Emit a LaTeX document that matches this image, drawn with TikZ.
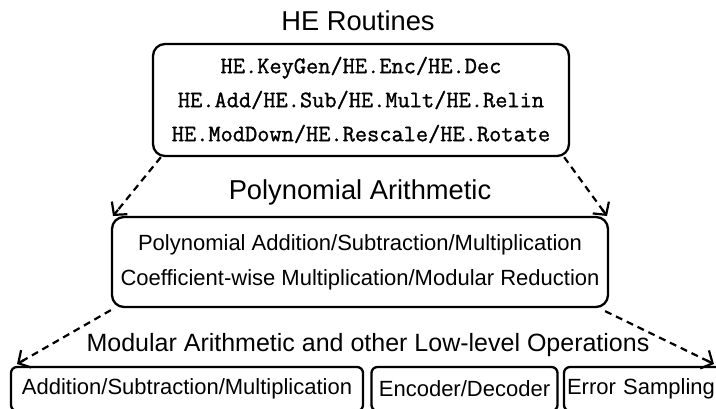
\documentclass[tikz,border=0pt]{standalone}
\usepackage{fontspec}
\setmainfont{Liberation Sans}
\newfontfamily\hemono[FakeBold=1.2]{Latin Modern Mono}
\usetikzlibrary{arrows.meta,calc}
\begin{document}
\begin{tikzpicture}[x=1pt,y=-1pt,
  box/.style={draw,line width=2.3pt,rounded corners=12pt,inner sep=0pt},
  lowbox/.style={draw,line width=2.3pt,rounded corners=6pt,inner sep=0pt,minimum height=44pt},
  title/.style={font=\fontsize{27.3}{30}\selectfont,inner sep=0pt},
  body/.style={font=\fontsize{22}{35}\selectfont},
  link/.style={line width=2.2pt,dash pattern=on 7pt off 5pt,shorten >=4pt},
  tip/.style={line width=2.2pt,solid,-{Straight Barb[length=9pt,width=20pt,line width=2.2pt]}}]
\useasboundingbox (0,0) rectangle (716,408);
\begin{scope}
\clip (0,0) rectangle (716,408);
\node[title] (t1) at (358,21) {HE Routines};
\node[box,minimum width=416pt,minimum height=112pt,align=center,
  font=\hemono\fontsize{23.7}{34}\selectfont] (he) at (361,100)
  {HE.KeyGen/HE.Enc/HE.Dec\\HE.Add/HE.Sub/HE.Mult/HE.Relin\\HE.ModDown/HE.Rescale/HE.Rotate};
\node[title] (t2) at (360,192) {Polynomial Arithmetic};
\node[box,minimum width=496pt,minimum height=90pt,align=center,body] (poly) at (360,262)
  {Polynomial Addition/Subtraction/Multiplication\\Coefficient-wise Multiplication/Modular Reduction};
\node[title,font=\fontsize{25}{30}\selectfont] (t3) at (368,345) {Modular Arithmetic and other Low-level Operations};
\node[lowbox,minimum width=352pt,body] (ar) at (187,389) {Addition/Subtraction/Multiplication};
\node[lowbox,minimum width=186pt,body] (enc) at (464.5,389) {Encoder/Decoder};
\node[lowbox,minimum width=176pt,body,text width=170pt] (err) at (652,389) {Error Sampling};
\coordinate (a1) at (113,216);
\coordinate (a2) at (607,216);
\coordinate (a3) at (17,364);
\coordinate (a4) at (714,364);
\coordinate (s1) at ([xshift=9pt]he.south west);
\coordinate (s2) at ([xshift=-6pt]he.south east);
\coordinate (s3) at ([yshift=-2pt]poly.south west);
\coordinate (s4) at ([xshift=-4pt,yshift=-3pt]poly.south east);
\foreach \s/\t in {s1/a1,s2/a2,s3/a3,s4/a4}{
  \draw[link] (\s) -- (\t);
  \draw[tip] ($(\t)!8pt!(\s)$) -- (\t);
}
\end{scope}
\end{tikzpicture}
\end{document}
